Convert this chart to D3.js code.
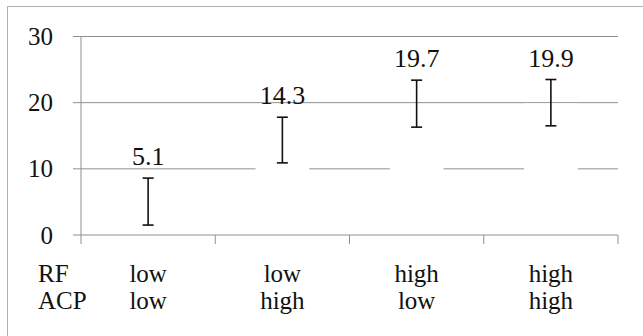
<!DOCTYPE html>
<html>
<head>
<meta charset="utf-8">
<script src="https://cdn.jsdelivr.net/npm/d3@7"></script>
<style>
  body { margin: 0; background: #fff; }
  text { font-family: "Liberation Serif", "DejaVu Serif", serif; fill: #111; }
</style>
</head>
<body>
<div id="chart"></div>
<script>
// means and error (+/-) per condition
const rf = ["low", "low", "high", "high"];
const acp = ["low", "high", "low", "high"];
const means = [5.1, 14.3, 19.7, 19.9];
const errLo = [1.5, 10.9, 16.3, 16.5];
const errHi = [8.6, 17.8, 23.4, 23.5];
const yTicks = [0, 10, 20, 30];

const width = 643, height = 336;
const margin = {top: 36.5, right: 25, bottom: 101, left: 81};

const svg = d3.select("#chart").append("svg")
  .attr("width", width).attr("height", height);

// outer frame
svg.append("rect").attr("x", 7.5).attr("y", 6.5)
  .attr("width", width).attr("height", height)
  .attr("fill", "none").attr("stroke", "#b0b0b0");

const idx = d3.range(means.length);
const x = d3.scaleBand().domain(idx).range([margin.left, width - margin.right]);
const y = d3.scaleLinear().domain([0, 30]).range([height - margin.bottom, margin.top]);

// gridlines (with tick stub to the left)
svg.append("g").selectAll("line").data(yTicks.filter(d => d > 0)).join("line")
  .attr("x1", margin.left - 8).attr("x2", width - margin.right)
  .attr("y1", d => y(d)).attr("y2", d => y(d))
  .attr("stroke", "#909090").attr("stroke-width", 1);

// invisible (white) bars that hide the gridlines
const bw = x.bandwidth() * 0.4;
svg.append("g").selectAll("rect").data(idx).join("rect")
  .attr("x", i => x(i) + x.bandwidth() / 2 - bw / 2)
  .attr("width", bw)
  .attr("y", i => y(means[i]))
  .attr("height", i => y(0) - y(means[i]))
  .attr("fill", "#fff");

// y axis line
svg.append("line")
  .attr("x1", margin.left).attr("x2", margin.left)
  .attr("y1", y(30)).attr("y2", y(0))
  .attr("stroke", "#909090");

// x axis line + category boundary ticks
svg.append("line")
  .attr("x1", margin.left - 8).attr("x2", width - margin.right)
  .attr("y1", y(0)).attr("y2", y(0))
  .attr("stroke", "#909090");
const bounds = idx.map(i => x(i)).concat([width - margin.right]);
svg.append("g").selectAll("line").data(bounds).join("line")
  .attr("x1", d => d).attr("x2", d => d)
  .attr("y1", y(0)).attr("y2", y(0) + 9)
  .attr("stroke", "#909090");

// y tick labels
svg.append("g").selectAll("text").data(yTicks).join("text")
  .attr("x", 53).attr("y", d => y(d))
  .attr("dy", "0.34em").attr("text-anchor", "end")
  .style("font-size", "25px").text(d => d);

// error bars
const cx = i => x(i) + x.bandwidth() / 2;
const eb = svg.append("g").attr("stroke", "#111").attr("stroke-width", 1.6);
eb.selectAll(".v").data(idx).join("line")
  .attr("x1", cx).attr("x2", cx)
  .attr("y1", i => y(errLo[i])).attr("y2", i => y(errHi[i]));
eb.selectAll(".t").data(idx).join("line")
  .attr("x1", i => cx(i) - 5.5).attr("x2", i => cx(i) + 5.5)
  .attr("y1", i => y(errHi[i])).attr("y2", i => y(errHi[i]));
eb.selectAll(".b").data(idx).join("line")
  .attr("x1", i => cx(i) - 5.5).attr("x2", i => cx(i) + 5.5)
  .attr("y1", i => y(errLo[i])).attr("y2", i => y(errLo[i]));

// value labels
svg.append("g").selectAll("text").data(idx).join("text")
  .attr("x", cx).attr("y", i => y(errHi[i]) - 13)
  .attr("text-anchor", "middle")
  .style("font-size", "26px").text(i => means[i].toFixed(1));

// category labels
const rows = [["RF", rf], ["ACP", acp]];
rows.forEach(([name, vals], r) => {
  const yy = 282 + r * 27;
  svg.append("text").attr("x", 38).attr("y", yy)
    .style("font-size", "25px").text(name);
  svg.append("g").selectAll("text").data(idx).join("text")
    .attr("x", cx).attr("y", yy).attr("text-anchor", "middle")
    .style("font-size", "25px")
    .text(i => vals[i]);
});
</script>
</body>
</html>
